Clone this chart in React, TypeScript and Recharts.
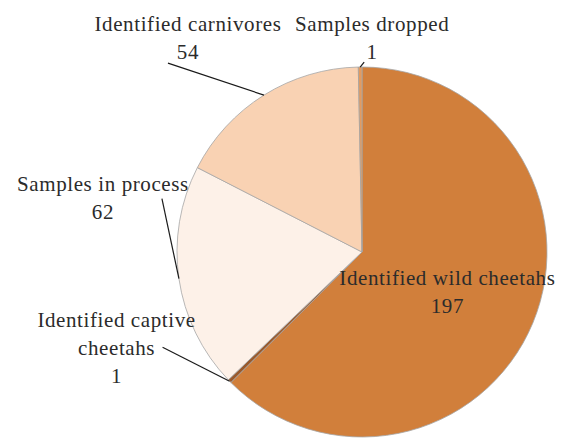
import { PieChart, Pie, Cell } from 'recharts';

const categories = [
  'Identified wild cheetahs',
  'Identified captive cheetahs',
  'Samples in process',
  'Identified carnivores',
  'Samples dropped',
];
const counts = [197, 1, 62, 54, 1];
const sliceColors = ['#D17F3B', '#9A5A2C', '#FDF1E8', '#F9D2B3', '#E39A5E'];

// label text lines per category (Excel-style wrapping)
const labelLines: string[][] = [
  ['Identified wild cheetahs'],
  ['Identified captive', 'cheetahs'],
  ['Samples in process'],
  ['Identified carnivores'],
  ['Samples dropped'],
];

// offsets from the slice's outer anchor point: text block (first line centre) and leader end
const labelLayout = [
  { inside: true, tx: 0, ty: -10, lx: 0, ly: 0 },
  { inside: false, tx: -113, ty: -62, lx: -67, ly: -34 },
  { inside: false, tx: -76, ty: -95, lx: -17, ly: -80 },
  { inside: false, tx: -76, ty: -71, lx: -96, ly: -32 },
  { inside: false, tx: 12, ty: -43, lx: 4, ly: -5 },
];

const data = categories.map((name, i) => ({ name, value: counts[i] }));

const RAD = Math.PI / 180;
const LINE_H = 28;

const anchorOf = (p: any, inside: boolean) => {
  const r = inside ? p.outerRadius * 0.5 : p.outerRadius;
  return {
    x: p.cx + r * Math.cos(-p.midAngle * RAD),
    y: p.cy + r * Math.sin(-p.midAngle * RAD),
  };
};

const renderLabel = (p: any) => {
  const layout = labelLayout[p.index];
  const a = anchorOf(p, layout.inside);
  const tx = a.x + layout.tx;
  const ty = a.y + layout.ty;
  const lines = [...labelLines[p.index], String(p.value)];
  return (
    <text
      x={tx}
      y={ty}
      textAnchor="middle"
      fill="#2b2b2b"
      fontFamily="Liberation Serif"
      fontSize={21}
      letterSpacing={0.6}
    >
      {lines.map((t, i) => (
        <tspan key={i} x={tx} y={ty + i * LINE_H} dy="0.35em">
          {t}
        </tspan>
      ))}
    </text>
  );
};

const renderLeader = (p: any) => {
  const layout = labelLayout[p.index];
  if (layout.inside) return <g />;
  const a = anchorOf(p, false);
  return (
    <path
      d={`M${a.x},${a.y}L${a.x + layout.lx},${a.y + layout.ly}`}
      stroke="#1a1a1a"
      strokeWidth={1.2}
      fill="none"
    />
  );
};

export default function App() {
  return (
    <div style={{ position: 'absolute', left: 0, top: 0, width: 564, height: 439, background: '#fff' }}>
      <PieChart width={564} height={439} margin={{ top: 0, right: 0, bottom: 0, left: 0 }}>
        <Pie
          data={data}
          dataKey="value"
          nameKey="name"
          cx={362}
          cy={252}
          outerRadius={185}
          startAngle={90}
          endAngle={-270}
          stroke="#A6A6A6"
          strokeWidth={0.8}
          label={renderLabel}
          labelLine={renderLeader}
          isAnimationActive={false}
        >
          {data.map((d, i) => (
            <Cell key={d.name} fill={sliceColors[i]} />
          ))}
        </Pie>
      </PieChart>
    </div>
  );
}
